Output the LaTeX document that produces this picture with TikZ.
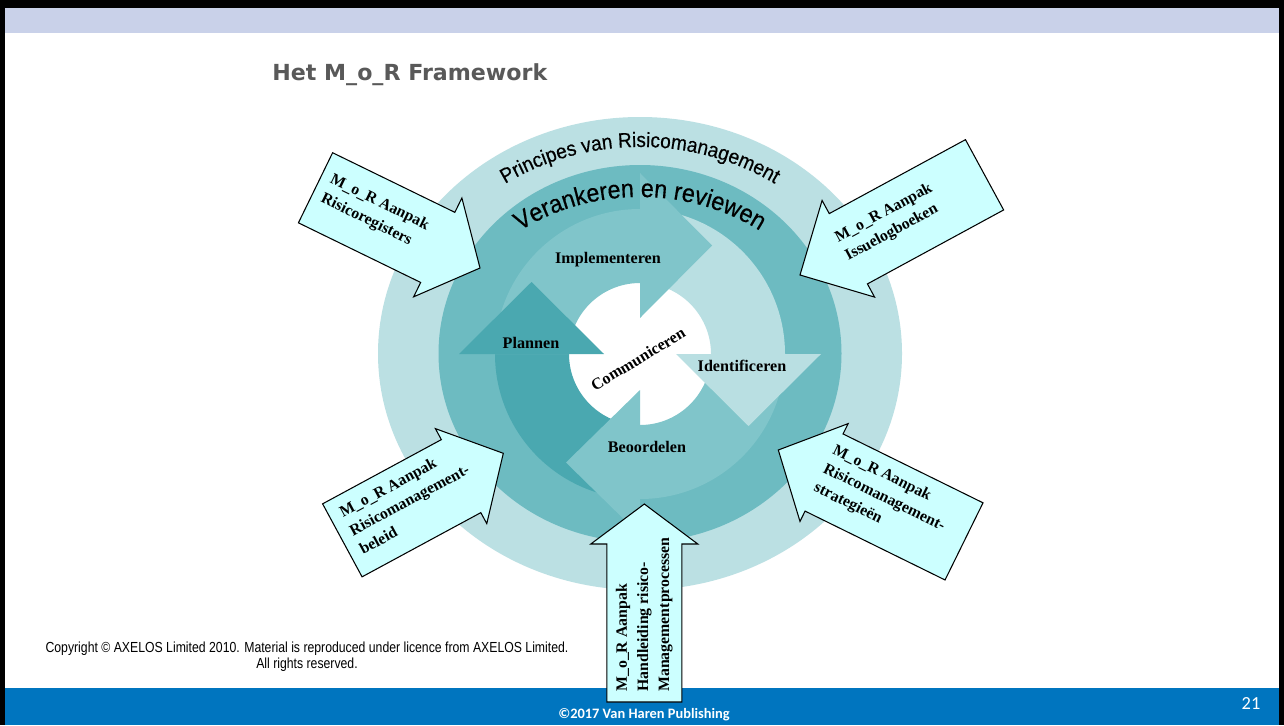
\documentclass[tikz,border=0pt]{standalone}
\usepackage{fontspec}
\setmainfont{Liberation Serif}
\newfontfamily\arialf{Liberation Sans}
\newfontfamily\arialarc[FakeStretch=0.92,FakeBold=0.4]{Liberation Sans}
\newfontfamily\arialn[FakeStretch=0.84]{Liberation Sans}
\newfontfamily\titlef{DejaVu Sans}
\newfontfamily\calibrif{Carlito}
\usetikzlibrary{calc,decorations.text}
\definecolor{lavband}{HTML}{C9D1E9}
\definecolor{footblue}{HTML}{0075BF}
\definecolor{titlegray}{HTML}{595959}
\definecolor{outerc}{HTML}{BBE0E3}
\definecolor{midc}{HTML}{6DBBC1}
\definecolor{planc}{HTML}{4AA8B0}
\definecolor{implc}{HTML}{80C5CA}
\definecolor{identc}{HTML}{B9DFE2}
\definecolor{beoc}{HTML}{80C5CA}
\definecolor{callc}{HTML}{CCFFFF}
\begin{document}
\begin{tikzpicture}[x=0.02cm,y=0.02cm,
  callout/.style={draw=black, fill=callc, line width=0.6pt, line join=miter},
  calltext/.style={font=\bfseries\fontsize{9}{12}\selectfont, align=left, inner sep=0pt, text=black},
  ringlabel/.style={font=\bfseries\fontsize{9.2}{11}\selectfont, inner sep=0pt, text=black}]
\useasboundingbox (0,0) rectangle (1284,725);
% frame
\fill[white] (0,0) rectangle (1284,725);
\fill[lavband] (0,692) rectangle (1284,717);
\fill[black] (0,717) rectangle (1284,725);
\fill[footblue] (0,0) rectangle (1284,37);
\fill[black] (0,0) rectangle (5,725);
\fill[black] (1279,0) rectangle (1284,725);
% title
\node[font=\titlef\bfseries\fontsize{12.6}{15}\selectfont, text=titlegray, anchor=base west, inner sep=0pt] (title) at (272,644) {Het M\_o\_R Framework};
% ellipses
\fill[outerc] (640,371.5) ellipse [x radius=262, y radius=236.5];
\fill[midc] (640,371.5) ellipse [x radius=201.5, y radius=188.5];
\coordinate (ctr) at (640,371);
\fill[white] (ctr) circle [radius=72];
% bodies
\fill[planc] ($(ctr)+(270:145)$) arc[start angle=270, end angle=180, radius=145] -- ($(ctr)+(180:71)$) arc[start angle=180, end angle=270, radius=71] -- cycle;
\fill[implc] ($(ctr)+(180:145)$) arc[start angle=180, end angle=90, radius=145] -- ($(ctr)+(90:71)$) arc[start angle=90, end angle=180, radius=71] -- cycle;
\fill[identc] ($(ctr)+(90:145)$) arc[start angle=90, end angle=0, radius=145] -- ($(ctr)+(0:71)$) arc[start angle=0, end angle=90, radius=71] -- cycle;
\fill[beoc] ($(ctr)+(0:145)$) arc[start angle=0, end angle=-90, radius=145] -- ($(ctr)+(-90:71)$) arc[start angle=-90, end angle=0, radius=71] -- cycle;
% heads
\fill[planc] ($(ctr)+(-36,0)$) -- ($(ctr)+(-181,0)$) -- ($(ctr)+(-108.5,72)$) -- cycle;
\fill[implc] ($(ctr)+(0,36)$) -- ($(ctr)+(0,181)$) -- ($(ctr)+(72,108.5)$) -- cycle;
\fill[identc] ($(ctr)+(36,0)$) -- ($(ctr)+(181,0)$) -- ($(ctr)+(108.5,-72)$) -- cycle;
\fill[beoc] ($(ctr)+(0,-36)$) -- ($(ctr)+(0,-181)$) -- ($(ctr)+(-74,-108.5)$) -- cycle;
% ring labels
\node[ringlabel] (impl) at (608,465) {Implementeren};
\node[ringlabel] (plan) at (531,382) {Plannen};
\node[ringlabel] (ident) at (742,359) {Identificeren};
\node[ringlabel] (beo) at (647,278) {Beoordelen};
\node[ringlabel, rotate=31] (comm) at (638,366) {Communiceren};
% arc texts
\path[decorate, decoration={text along path, text align=center, text={|\arialarc\fontsize{11.8}{13}\selectfont|Principes van Risicomanagement}}]
  ($(640,345)+(165:250 and 233)$) arc[start angle=165, end angle=15, x radius=250, y radius=233];
\path[decorate, decoration={text along path, text align=center, text={|\arialarc\fontsize{14.4}{16}\selectfont|Verankeren en reviewen}}]
  ($(640,345)+(160:207 and 183)$) arc[start angle=160, end angle=20, x radius=207, y radius=183];
% callout arrows
\begin{scope}[shift={(480,457)}, rotate=-26]
\draw[callout] (0,0) -- (-47,55) -- (-47,39) -- (-183,39) -- (-183,-39) -- (-47,-39) -- (-47,-55) -- cycle;
\node[calltext, rotate=-26, anchor=west] (tl) at (-173,3.8) {M\_o\_R Aanpak\\Risicoregisters};
\end{scope}
\begin{scope}[shift={(800,450)}, rotate=208.5]
\draw[callout] (0,0) -- (-55,55) -- (-55,40) -- (-210,40) -- (-210,-40) -- (-55,-40) -- (-55,-55) -- cycle;
\node[calltext, rotate=28.5, anchor=west] (tr) at (-49,-3.6) {M\_o\_R Aanpak\\Issuelogboeken};
\end{scope}
\begin{scope}[shift={(503.3,271.7)}, rotate=28.4]
\draw[callout] (0,0) -- (-48,54) -- (-48,41.5) -- (-183,41.5) -- (-183,-41.5) -- (-48,-41.5) -- (-48,-54) -- cycle;
\node[calltext, rotate=28.4, anchor=west] (bl) at (-172,3.8) {M\_o\_R Aanpak\\Risicomanagement-\\beleid};
\end{scope}
\begin{scope}[shift={(778.3,275)}, rotate=153.8]
\draw[callout] (0,0) -- (-51,54.5) -- (-51,43) -- (-207,43) -- (-207,-43) -- (-51,-43) -- (-51,-54.5) -- cycle;
\node[calltext, rotate=-26.2, anchor=west] (br) at (-49,-3.5) {M\_o\_R Aanpak\\Risicomanagement-\\strategieën};
\end{scope}
\begin{scope}[shift={(644.3,221)}, rotate=90]
\draw[callout] (0,0) -- (-40,53.5) -- (-40,37.5) -- (-198,37.5) -- (-198,-37.5) -- (-40,-37.5) -- (-40,-53.5) -- cycle;
\node[calltext, rotate=90, anchor=west] (bt) at (-188,0) {M\_o\_R Aanpak\\Handleiding risico-\\Managementprocessen};
\end{scope}
% footer texts
\node[font=\arialn\fontsize{8.3}{9.1}\selectfont, align=center, inner sep=0pt] (copy) at (307,68) {Copyright © AXELOS Limited 2010. Material is reproduced under licence from AXELOS Limited.\\All rights reserved.};
\node[font=\calibrif\bfseries\fontsize{8.2}{9}\selectfont, text=white, inner sep=0pt] (pub) at (644,10) {©2017 Van Haren Publishing};
\node[font=\calibrif\fontsize{10.5}{12}\selectfont, text=white, inner sep=0pt] (pg) at (1251,21) {21};
\end{tikzpicture}
\end{document}
